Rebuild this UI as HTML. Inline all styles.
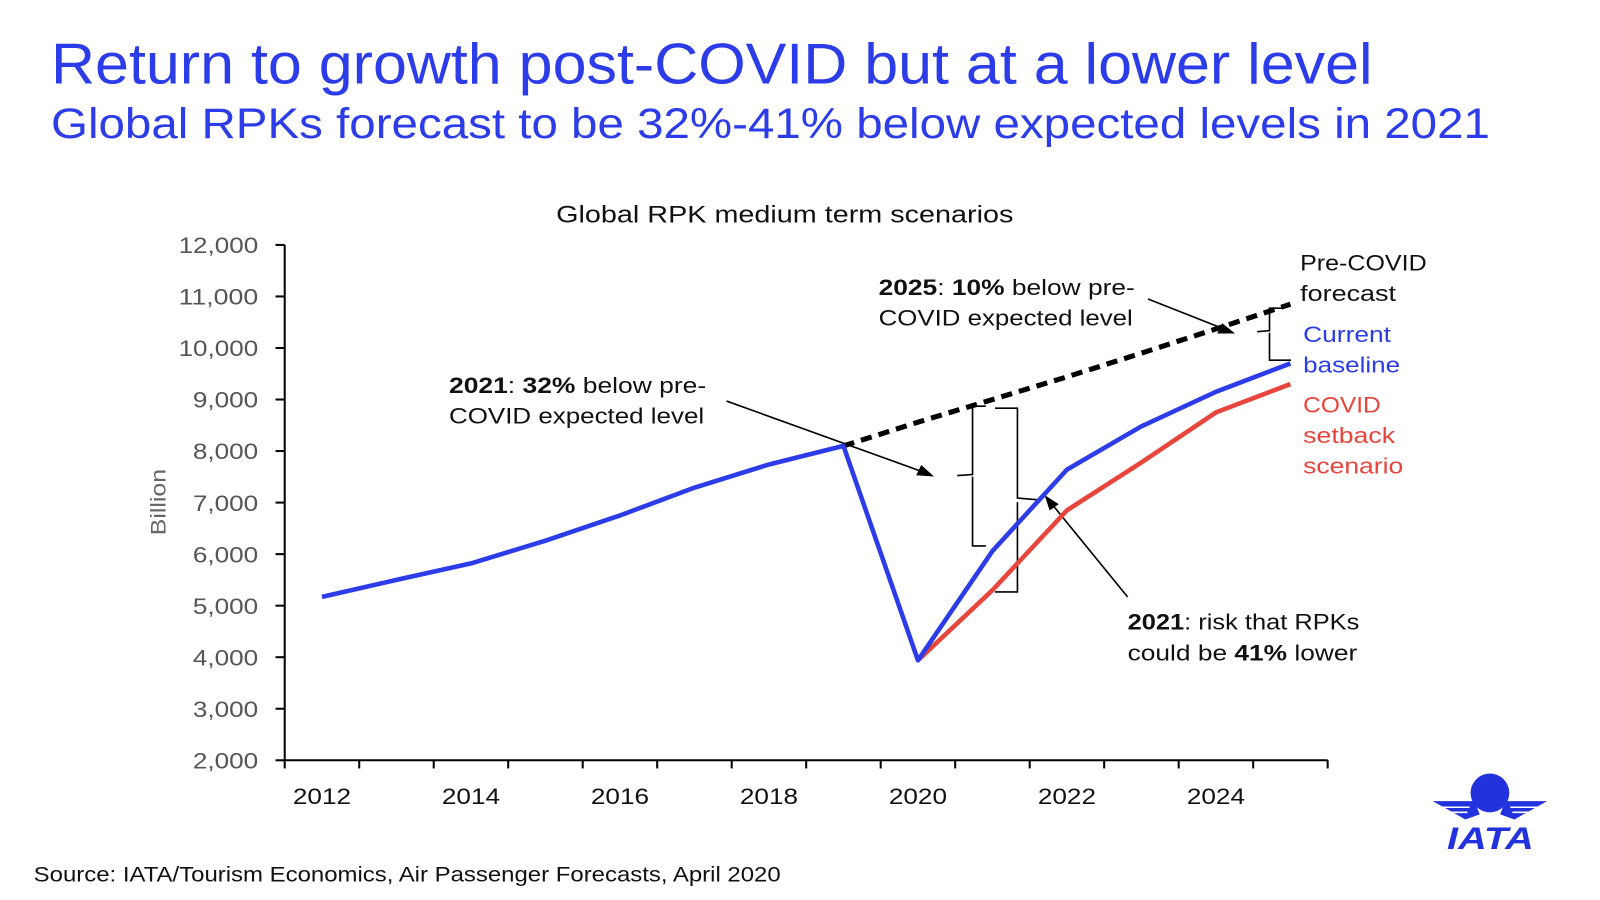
<!DOCTYPE html>
<html><head><meta charset="utf-8"><style>
html,body{margin:0;padding:0;background:#fff;overflow:hidden;width:1600px;height:900px}
#wrap{width:1570px;height:882px;transform:scale(1.0205);transform-origin:0 0;position:relative}
text{font-family:"Liberation Sans",sans-serif}
</style></head><body>
<div id="wrap">
<svg id="chart" width="1570" height="882" xmlns="http://www.w3.org/2000/svg">
<text x="50" y="82" font-size="56" fill="#2b3ce8" textLength="1295" lengthAdjust="spacingAndGlyphs">Return to growth post-COVID but at a lower level</text>
<text x="50" y="135" font-size="42" fill="#2b3ce8" textLength="1410" lengthAdjust="spacingAndGlyphs">Global RPKs forecast to be 32%-41% below expected levels in 2021</text>
<text x="545" y="218" font-size="24" fill="#111" textLength="448" lengthAdjust="spacingAndGlyphs">Global RPK medium term scenarios</text>
<text transform="translate(162,492) rotate(-90)" font-size="21" text-anchor="middle" fill="#666" textLength="65" lengthAdjust="spacingAndGlyphs">Billion</text>
<g id="axes"></g>
<g id="annot" stroke="#000" stroke-width="1.6" fill="none">
<path d="M712,393 L906,463"/>
<polygon points="913,466 899,465 903,457" fill="#000"/>
<path d="M1125,293 L1201,323"/>
<polygon points="1208,326 1194,326 1198,318" fill="#000"/>
<path d="M1105,585 L1030,493"/>
<polygon points="1025,487 1036,494 1029,499" fill="#000"/>
<path d="M966,398 L953,398 L953,465 L938,466 M953,467 L953,535 L966,535"/>
<path d="M975,400 L997,400 L997,488 L1020,490 M997,492 L997,580 L975,580"/>
<path d="M1256,302 L1244,302 L1244,324 L1232,325 M1244,326 L1244,353 L1265,353"/>
</g>
<g id="series"></g>
<g font-size="22" fill="#111" lengthAdjust="spacingAndGlyphs">
<text x="440" y="385" textLength="252" lengthAdjust="spacingAndGlyphs"><tspan font-weight="bold">2021</tspan>: <tspan font-weight="bold">32%</tspan> below pre-</text>
<text x="440" y="415" textLength="250" lengthAdjust="spacingAndGlyphs">COVID expected level</text>
<text x="861" y="289" textLength="251" lengthAdjust="spacingAndGlyphs"><tspan font-weight="bold">2025</tspan>: <tspan font-weight="bold">10%</tspan> below pre-</text>
<text x="861" y="319" textLength="249" lengthAdjust="spacingAndGlyphs">COVID expected level</text>
<text x="1105" y="617" textLength="227" lengthAdjust="spacingAndGlyphs"><tspan font-weight="bold">2021</tspan>: risk that RPKs</text>
<text x="1105" y="647" textLength="225" lengthAdjust="spacingAndGlyphs">could be <tspan font-weight="bold">41%</tspan> lower</text>
<text x="1274" y="265" textLength="124" lengthAdjust="spacingAndGlyphs">Pre-COVID</text>
<text x="1274" y="295" textLength="94" lengthAdjust="spacingAndGlyphs">forecast</text>
<text x="1277" y="335" fill="#2b3ce8" textLength="86" lengthAdjust="spacingAndGlyphs">Current</text>
<text x="1277" y="365" fill="#2b3ce8" textLength="95" lengthAdjust="spacingAndGlyphs">baseline</text>
<text x="1277" y="404" fill="#e8453c" textLength="76" lengthAdjust="spacingAndGlyphs">COVID</text>
<text x="1277" y="434" fill="#e8453c" textLength="90" lengthAdjust="spacingAndGlyphs">setback</text>
<text x="1277" y="464" fill="#e8453c" textLength="98" lengthAdjust="spacingAndGlyphs">scenario</text>
</g>
<text x="33" y="864" font-size="21" fill="#111" textLength="732" lengthAdjust="spacingAndGlyphs">Source: IATA/Tourism Economics, Air Passenger Forecasts, April 2020</text>
<g fill="#2233dd">
<circle cx="1460" cy="777" r="19"/>
<path d="M1404,785 L1445,785 L1450,798 L1436,803 Z M1516,785 L1475,785 L1470,798 L1484,803 Z"/>
<path d="M1412,791 L1440,791 M1416,796 L1438,796 M1508,791 L1480,791 M1504,796 L1482,796" stroke="#fff" stroke-width="1.5"/>
<text x="1418" y="832" font-size="31" font-weight="bold" font-style="italic" textLength="85" lengthAdjust="spacingAndGlyphs">IATA</text>
</g>
</svg>
</div>
<script>
const years=[2012,2013,2014,2015,2016,2017,2018,2019,2020,2021,2022,2023,2024,2025];
const baseline=[5170,5500,5820,6260,6750,7290,7740,8100,3940,6060,7640,8480,9150,9700];
const setbackYears=[2020,2021,2022,2023,2024,2025];
const setback=[3940,5300,6850,7780,8750,9300];
const precovidYears=[2019,2020,2021,2022,2023,2024,2025];
const precovid=[8100,8560,9000,9440,9900,10370,10850];
const yTicks=[2000,3000,4000,5000,6000,7000,8000,9000,10000,11000,12000];
const xTickLabels=[2012,2014,2016,2018,2020,2022,2024];
const NS="http://www.w3.org/2000/svg";
const X0=279,BAND=73,Y0=745,YS=0.0505;
function xs(yr){return X0+BAND*(yr-2012)+BAND/2;}
function ys(v){return Y0-(v-2000)*YS;}
function mk(tag,attrs,parent){const e=document.createElementNS(NS,tag);for(const k in attrs)e.setAttribute(k,attrs[k]);parent.appendChild(e);return e;}
const axes=document.getElementById('axes');
const yl=mk('line',{x1:X0,y1:ys(12000),x2:X0,y2:Y0,stroke:'#000','stroke-width':2},axes);


const xl=mk('line',{x1:X0,y1:Y0,x2:X0+BAND*14,y2:Y0,stroke:'#000','stroke-width':2},axes);


yTicks.forEach(v=>{
  const t=mk('line',{x1:X0-9,y1:ys(v),x2:X0,y2:ys(v),stroke:'#000','stroke-width':2},axes);
  
  
  const s=v.toLocaleString('en-US');
  const w=s.length>5?78:64;
  const l=mk('text',{x:X0-26-w,y:ys(v)+8,'font-size':22,fill:'#555',textLength:w,lengthAdjust:'spacingAndGlyphs'},axes);
  l.textContent=s;
  
  
});
for(let i=0;i<=14;i++){
  const t=mk('line',{x1:X0+BAND*i,y1:Y0,x2:X0+BAND*i,y2:Y0+8,stroke:'#000','stroke-width':2},axes);
  
  
}
xTickLabels.forEach(yr=>{
  const l=mk('text',{x:xs(yr)-28.5,y:788,'font-size':22,fill:'#111',textLength:57,lengthAdjust:'spacingAndGlyphs'},axes);
  l.textContent=yr;
  
  
});
const ser=document.getElementById('series');
function pts(yrs,vals){return yrs.map((y,i)=>xs(y)+','+ys(vals[i])).join(' ');}
const pc=mk('polyline',{points:pts(precovidYears,precovid),fill:'none',stroke:'#000','stroke-width':5,'stroke-dasharray':'11,7'},ser);


const sb=mk('polyline',{points:pts(setbackYears,setback),fill:'none',stroke:'#e8453c','stroke-width':4.5,'stroke-linejoin':'round'},ser);


const bl=mk('polyline',{points:pts(years,baseline),fill:'none',stroke:'#2b3ce8','stroke-width':4.5,'stroke-linejoin':'round'},ser);


</script>
</body></html>
